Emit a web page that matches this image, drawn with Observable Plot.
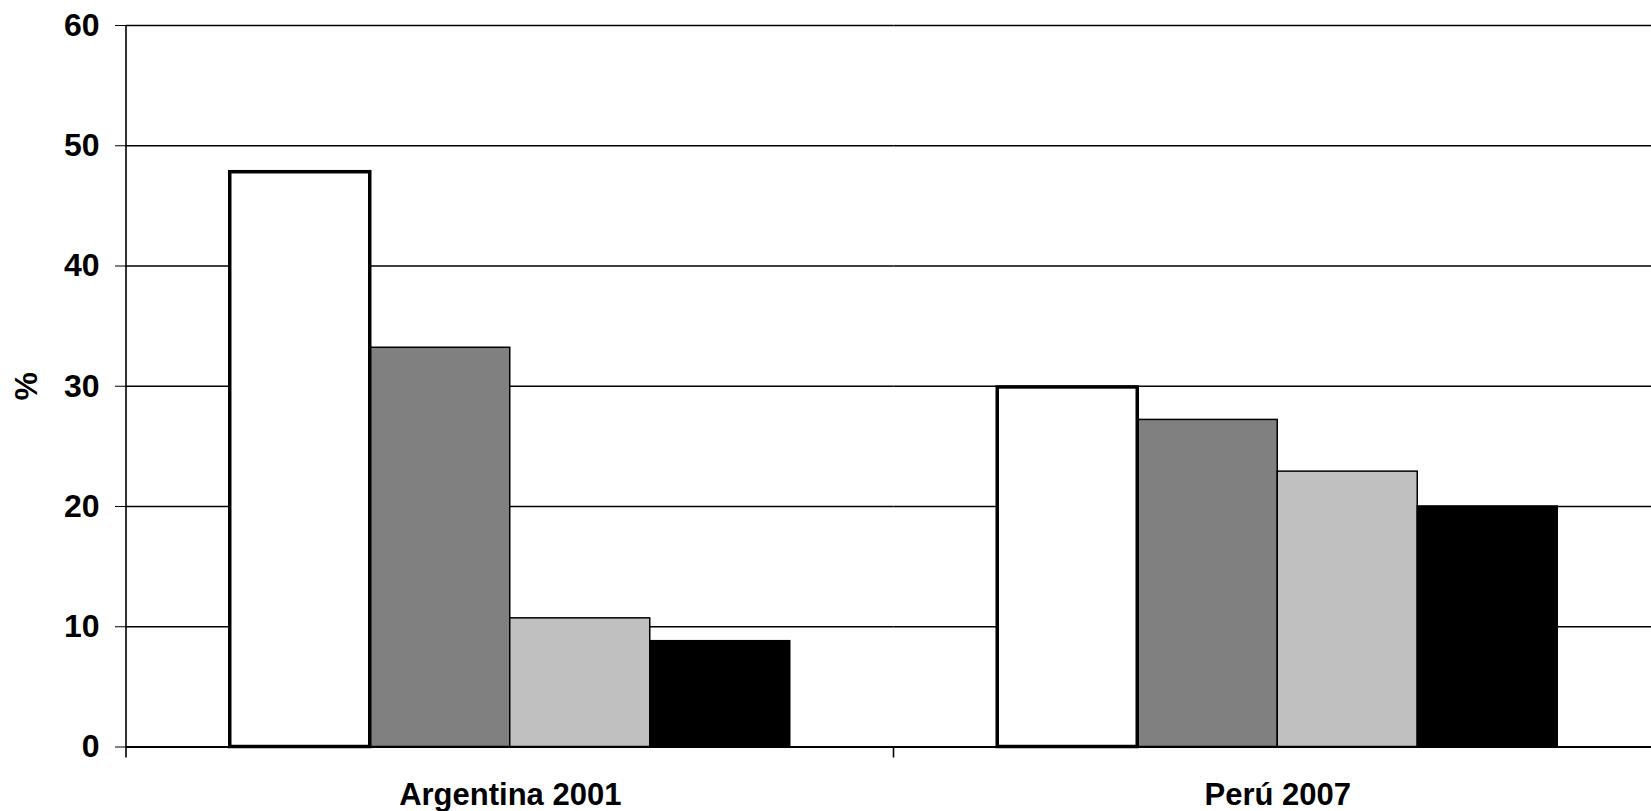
<!DOCTYPE html>
<html>
<head>
<meta charset="utf-8">
<script src="https://cdn.jsdelivr.net/npm/d3@7"></script>
<script src="https://cdn.jsdelivr.net/npm/@observablehq/plot@0.6"></script>
<style>
  html, body { margin: 0; padding: 0; background: #fff; overflow: hidden; }
  #chart svg { max-width: none; }
</style>
</head>
<body>
<div id="chart"></div>
<script>
// Categories on the x axis (one group of four bars each)
const countries = ["Argentina 2001", "Perú 2007"];
// Four series within each group
const seriesKeys = ["Serie 1", "Serie 2", "Serie 3", "Serie 4"];
const seriesFills = ["#ffffff", "#808080", "#c0c0c0", "#000000"];
// Values (%) per series, one array per country
const argentinaValues = [47.8, 33.2, 10.7, 8.8];
const peruValues = [29.9, 27.2, 22.9, 20.0];
// Y axis ticks
const yTicks = [0, 10, 20, 30, 40, 50, 60];
const gridTicks = [10, 20, 30, 40, 50, 60];

const valuesByCountry = [argentinaValues, peruValues];
const data = countries.flatMap((country, i) =>
  valuesByCountry[i].map((value, j) => ({country, serie: seriesKeys[j], value}))
);

const W = 1651, H = 811;
const left = 126;
const bandEnd = 1661; // second group's band runs slightly past the right edge

const barBase = {fx: "country", x: "serie", y: "value", fill: "serie", stroke: "#000"};

const plot = Plot.plot({
  width: W,
  height: H,
  marginTop: 25,
  marginBottom: 64.5,
  marginLeft: left,
  marginRight: 0,
  style: {
    fontFamily: "'Liberation Sans', Arial, sans-serif",
    fontWeight: "bold",
    fontSize: "32px",
    color: "#000",
    background: "#fff",
    overflow: "hidden"
  },
  fx: {domain: countries, range: [left, bandEnd], padding: 0, round: false, label: null},
  x: {domain: seriesKeys, paddingInner: 0, paddingOuter: 0.741, round: false, axis: null},
  y: {domain: [0, 60]},
  color: {domain: seriesKeys, range: seriesFills},
  marks: [
    Plot.ruleY(gridTicks, {stroke: "#000", strokeWidth: 1.5}),
    Plot.barY(data.filter(d => d.serie !== seriesKeys[0]), {...barBase, strokeWidth: 1.5}),
    Plot.barY(data.filter(d => d.serie === seriesKeys[0]), {...barBase, strokeWidth: 3.5}),
    Plot.ruleY([0], {stroke: "#000", strokeWidth: 2}),
    Plot.axisY({
      ticks: yTicks,
      tickSize: 11,
      tickPadding: 16,
      tickFormat: d => String(d),
      fontSize: 32,
      label: "%",
      labelAnchor: "center",
      labelArrow: "none",
      labelOffset: 112
    }),
    Plot.axisFx({anchor: "bottom", tickSize: 0, tickPadding: 36, fontSize: 31, label: null})
  ]
});

// Value axis line and category boundary ticks, placed from the plot's scales
const fx = plot.scale("fx");
const y = plot.scale("y");
const svg = d3.select(plot);
const g = svg.append("g").attr("stroke", "#000").attr("stroke-width", 1.6);
const y0 = y.apply(0);
g.append("line")
  .attr("x1", fx.apply(countries[0])).attr("x2", fx.apply(countries[0]))
  .attr("y1", y.apply(60)).attr("y2", y0 + 11);
countries.slice(1).forEach(c => {
  g.append("line")
    .attr("x1", fx.apply(c)).attr("x2", fx.apply(c))
    .attr("y1", y0).attr("y2", y0 + 11);
});

document.getElementById("chart").appendChild(plot);
</script>
</body>
</html>
